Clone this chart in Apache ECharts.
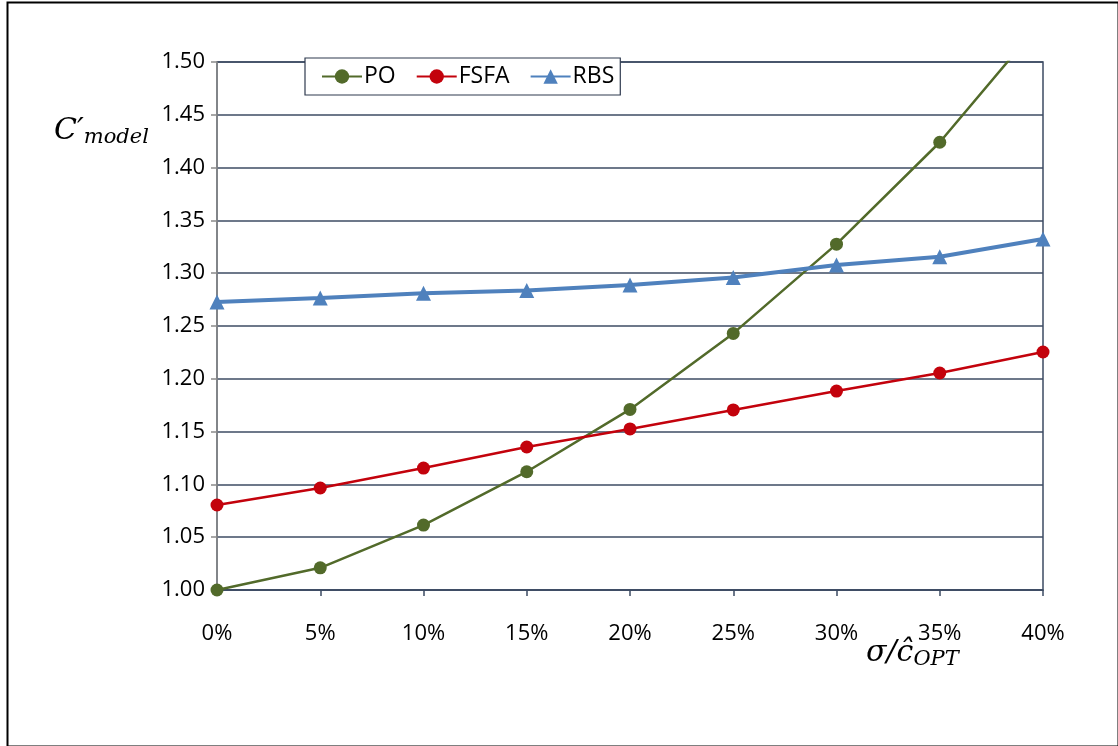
<!DOCTYPE html>
<html><head><meta charset="utf-8">
<script src="https://cdn.jsdelivr.net/npm/echarts@6/dist/echarts.min.js"></script>
<style>html,body{margin:0;padding:0;background:#fff}#c{width:1118px;height:746px}</style>
</head><body><div id="c"></div>
<script>
const categories = ['0%','5%','10%','15%','20%','25%','30%','35%','40%'];
const poValues   = [1.000, 1.021, 1.0615, 1.112, 1.171, 1.243, 1.3275, 1.424, 1.540];
const fsfaValues = [1.0805, 1.0966, 1.1155, 1.1354, 1.1525, 1.1705, 1.1884, 1.2055, 1.2254];
const rbsValues  = [1.2727, 1.2765, 1.281, 1.2837, 1.2888, 1.296, 1.3078, 1.3155, 1.3323];
const yTicks = {min: 1.0, max: 1.5, interval: 0.05};

const chart = echarts.init(document.getElementById('c'), null, {renderer:'canvas'});
const font = '"Open Sans", Lato, sans-serif';
const grid = '#3d4b63';
chart.setOption({
  animation: false,
  backgroundColor: '#fff',
  grid: {left: 217, right: 75, top: 62, bottom: 156, show: true, borderColor: grid, borderWidth: 1.5, backgroundColor: 'transparent'},
  legend: {
    left: 305, top: 58, width: 316, height: 42,
    padding: [7, 6, 7, 16],
    backgroundColor: '#fff', borderColor: '#2f3a4f', borderWidth: 1.2,
    itemWidth: 40, itemHeight: 18, itemGap: 20,
    textStyle: {fontFamily: font, fontSize: 23, color: '#000', padding: [0,0,0,-3]},
    data: ['PO','FSFA','RBS']
  },
  xAxis: {
    type: 'category', data: categories, boundaryGap: false,
    axisLine: {lineStyle: {color: grid, width: 1.5}},
    axisTick: {show: true, alignWithLabel: true, length: 6, lineStyle: {color: grid, width: 1.5}},
    axisLabel: {fontFamily: font, fontSize: 22, color: '#000', margin: 33},
    splitLine: {show: false}
  },
  yAxis: {
    type: 'value', min: yTicks.min, max: yTicks.max, interval: yTicks.interval,
    axisLine: {show: true, lineStyle: {color: '#8a8a8a', width: 1.5}},
    axisTick: {show: true, length: 6, lineStyle: {color: '#8a8a8a', width: 1.5}},
    axisLabel: {fontFamily: font, fontSize: 22, color: '#000', margin: 12, formatter: v => v.toFixed(2)},
    splitLine: {show: true, lineStyle: {color: grid, width: 1.5}}
  },
  series: [
    {name: 'PO', type: 'line', data: poValues, clip: true, symbol: 'circle', symbolSize: 13,
     itemStyle: {color: '#526a2a'}, lineStyle: {color: '#526a2a', width: 2.5}},
    {name: 'FSFA', type: 'line', data: fsfaValues, clip: true, symbol: 'circle', symbolSize: 13,
     itemStyle: {color: '#c3020c'}, lineStyle: {color: '#c3020c', width: 2.5}},
    {name: 'RBS', type: 'line', data: rbsValues, clip: true, symbol: 'triangle', symbolSize: 15,
     itemStyle: {color: '#4f81bd'}, lineStyle: {color: '#4f81bd', width: 4}}
  ],
  graphic: [
    {type: 'rect', left: 5, top: 0, shape: {width: 1111, height: 744}, style: {fill: 'none', stroke: '#000', lineWidth: 2}, silent: true, z: -10},
    {type: 'text', left: 54, top: 116, style: {
      rich: {
        c: {fontFamily: '"DejaVu Serif", serif', fontStyle: 'italic', fontSize: 30, fill: '#000'},
        s: {fontFamily: '"DejaVu Serif", serif', fontStyle: 'italic', fontSize: 21, fill: '#000', padding: [14,0,0,0]}
      },
      text: '{c|C′}{s|model}'
    }},
    {type: 'text', left: 866, top: 638, style: {
      rich: {
        c: {fontFamily: '"DejaVu Serif", serif', fontStyle: 'italic', fontSize: 30, fill: '#000'},
        s: {fontFamily: '"DejaVu Serif", serif', fontStyle: 'italic', fontSize: 21, fill: '#000', padding: [14,0,0,0]}
      },
      text: '{c|σ/ĉ}{s|OPT}'
    }}
  ]
});
</script></body></html>
